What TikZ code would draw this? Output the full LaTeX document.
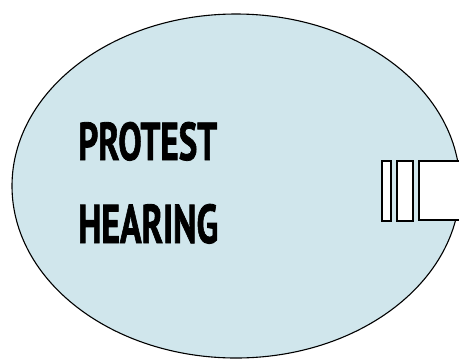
\documentclass[tikz,border=0pt]{standalone}
\usepackage{fontspec}
\setmainfont{PT Sans}[BoldFeatures={FakeBold=1.6}]
\usepackage{xcolor}
\usetikzlibrary{positioning}
\definecolor{cPOOL}{HTML}{D0E6EC}

\tikzset{
  rim/.style={line width=1.1pt, black},
  titletext/.style={anchor=base west, inner sep=0pt, font=\bfseries}
}

\begin{document}
\begin{tikzpicture}[x=1pt, y=-1pt]
  \useasboundingbox (0,0) rectangle (459,360);
  \clip (0,0) rectangle (459,360);

  % Outer oval
  \draw[rim, fill=cPOOL] (236,186) ellipse [x radius=224, y radius=172];

  % Open slot on the right
  \fill[white] (419,161) rectangle (470,220);
  \draw[rim] (470,161) -- (419,161) -- (419,220) -- (470,220);

  % Two bars
  \draw[rim, fill=white] (382,161) rectangle (391,221);
  \draw[rim, fill=white] (397,161) rectangle (413,221);

  % Title
  \node[titletext] (protest) at (78,160) {\resizebox{139pt}{38pt}{PROTEST}};
  \node[titletext] (hearing) at (78,243) {\resizebox{140pt}{39pt}{HEARING}};
\end{tikzpicture}
\end{document}
